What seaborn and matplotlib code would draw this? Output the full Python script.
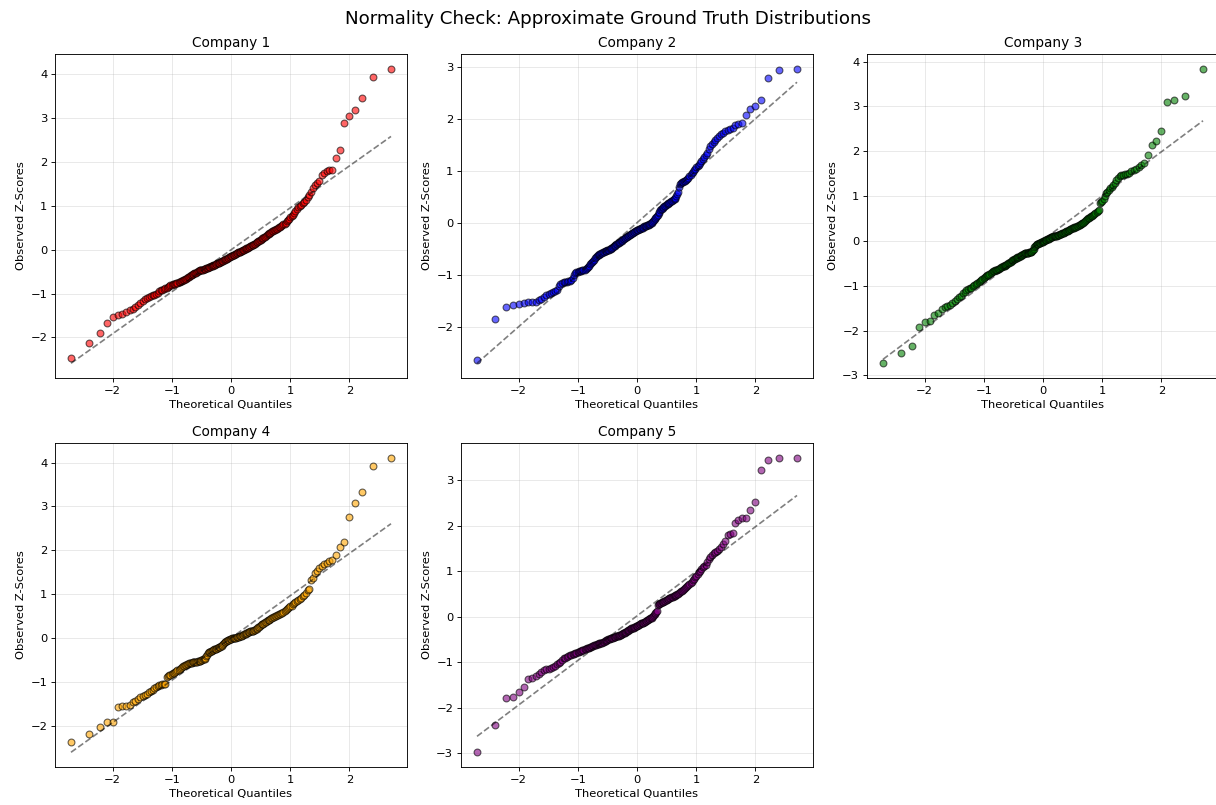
import numpy as np
import pandas as pd
import matplotlib
matplotlib.use("Agg")
import matplotlib.pyplot as plt
import seaborn as sns
from statistics import NormalDist

company_names = ["Company 1", "Company 2", "Company 3", "Company 4", "Company 5"]
company_colors = ["red", "blue", "green", "orange", "purple"]

# Sorted observed z-scores (200 per company)
company1 = [
    -2.46, -2.13, -1.89, -1.67, -1.54, -1.49, -1.47, -1.42, -1.38, -1.35,
    -1.30, -1.26, -1.22, -1.17, -1.12, -1.10, -1.08, -1.06, -1.04, -1.02,
    -1.00, -0.98, -0.95, -0.92, -0.91, -0.89, -0.87, -0.86, -0.84, -0.83,
    -0.81, -0.80, -0.79, -0.78, -0.77, -0.76, -0.75, -0.74, -0.73, -0.72,
    -0.71, -0.70, -0.69, -0.67, -0.66, -0.64, -0.63, -0.61, -0.60, -0.58,
    -0.57, -0.56, -0.55, -0.54, -0.53, -0.52, -0.51, -0.49, -0.48, -0.47,
    -0.46, -0.46, -0.45, -0.45, -0.44, -0.44, -0.43, -0.42, -0.42, -0.41,
    -0.40, -0.39, -0.39, -0.38, -0.37, -0.36, -0.35, -0.35, -0.34, -0.33,
    -0.32, -0.31, -0.30, -0.30, -0.29, -0.28, -0.27, -0.26, -0.26, -0.25,
    -0.24, -0.23, -0.22, -0.21, -0.20, -0.19, -0.18, -0.17, -0.16, -0.15,
    -0.14, -0.13, -0.12, -0.11, -0.11, -0.10, -0.09, -0.08, -0.07, -0.06,
    -0.05, -0.04, -0.04, -0.03, -0.02, -0.01, -0.01, 0.00, 0.01, 0.02,
    0.03, 0.04, 0.05, 0.06, 0.07, 0.08, 0.09, 0.10, 0.11, 0.12,
    0.13, 0.14, 0.15, 0.17, 0.18, 0.19, 0.20, 0.22, 0.23, 0.24,
    0.26, 0.27, 0.29, 0.30, 0.32, 0.33, 0.35, 0.36, 0.38, 0.39,
    0.41, 0.42, 0.43, 0.45, 0.46, 0.47, 0.48, 0.50, 0.51, 0.52,
    0.54, 0.56, 0.58, 0.60, 0.62, 0.65, 0.68, 0.71, 0.74, 0.77,
    0.80, 0.84, 0.88, 0.93, 0.97, 1.00, 1.03, 1.06, 1.09, 1.13,
    1.20, 1.25, 1.31, 1.40, 1.48, 1.53, 1.58, 1.70, 1.76, 1.80,
    1.82, 1.83, 2.10, 2.27, 2.90, 3.05, 3.18, 3.46, 3.95, 4.13,
]

company2 = [
    -2.63, -1.83, -1.60, -1.56, -1.55, -1.53, -1.52, -1.52, -1.51, -1.48,
    -1.45, -1.41, -1.38, -1.36, -1.34, -1.32, -1.30, -1.28, -1.20, -1.16,
    -1.14, -1.13, -1.12, -1.12, -1.11, -1.10, -1.09, -1.04, -0.99, -0.96,
    -0.94, -0.93, -0.92, -0.92, -0.91, -0.90, -0.90, -0.89, -0.87, -0.85,
    -0.83, -0.81, -0.79, -0.77, -0.75, -0.73, -0.70, -0.67, -0.65, -0.62,
    -0.61, -0.60, -0.59, -0.58, -0.57, -0.56, -0.55, -0.55, -0.54, -0.53,
    -0.53, -0.52, -0.51, -0.51, -0.50, -0.49, -0.48, -0.47, -0.45, -0.44,
    -0.43, -0.41, -0.40, -0.39, -0.38, -0.37, -0.36, -0.35, -0.34, -0.33,
    -0.32, -0.31, -0.30, -0.29, -0.28, -0.27, -0.26, -0.25, -0.24, -0.23,
    -0.22, -0.21, -0.20, -0.19, -0.18, -0.17, -0.16, -0.15, -0.14, -0.13,
    -0.13, -0.12, -0.11, -0.11, -0.10, -0.09, -0.09, -0.08, -0.07, -0.06,
    -0.06, -0.05, -0.05, -0.04, -0.03, -0.03, -0.02, -0.01, 0.00, 0.01,
    0.03, 0.05, 0.07, 0.09, 0.11, 0.13, 0.15, 0.17, 0.20, 0.22,
    0.25, 0.27, 0.28, 0.30, 0.31, 0.33, 0.34, 0.35, 0.37, 0.38,
    0.39, 0.40, 0.41, 0.42, 0.43, 0.44, 0.46, 0.47, 0.48, 0.52,
    0.56, 0.61, 0.70, 0.76, 0.78, 0.79, 0.80, 0.81, 0.82, 0.83,
    0.85, 0.87, 0.90, 0.93, 0.96, 0.99, 1.02, 1.05, 1.08, 1.10,
    1.13, 1.16, 1.19, 1.23, 1.27, 1.31, 1.36, 1.42, 1.48, 1.53,
    1.56, 1.60, 1.64, 1.67, 1.71, 1.74, 1.77, 1.79, 1.81, 1.84,
    1.88, 1.90, 1.92, 2.08, 2.19, 2.26, 2.36, 2.80, 2.94, 2.97,
]

company3 = [
    -2.73, -2.51, -2.35, -1.92, -1.80, -1.79, -1.66, -1.60, -1.53, -1.47,
    -1.45, -1.43, -1.38, -1.33, -1.30, -1.26, -1.22, -1.17, -1.13, -1.10,
    -1.08, -1.06, -1.04, -1.01, -0.99, -0.97, -0.94, -0.92, -0.90, -0.87,
    -0.85, -0.83, -0.81, -0.79, -0.77, -0.75, -0.73, -0.71, -0.70, -0.68,
    -0.67, -0.66, -0.65, -0.64, -0.63, -0.62, -0.60, -0.59, -0.58, -0.57,
    -0.56, -0.55, -0.54, -0.53, -0.51, -0.50, -0.49, -0.47, -0.46, -0.44,
    -0.43, -0.42, -0.41, -0.40, -0.39, -0.38, -0.37, -0.36, -0.35, -0.34,
    -0.33, -0.32, -0.31, -0.30, -0.29, -0.28, -0.28, -0.27, -0.27, -0.26,
    -0.26, -0.25, -0.25, -0.24, -0.24, -0.23, -0.20, -0.17, -0.14, -0.11,
    -0.09, -0.08, -0.07, -0.06, -0.05, -0.05, -0.04, -0.03, -0.03, -0.02,
    -0.01, 0.00, 0.01, 0.02, 0.03, 0.04, 0.05, 0.05, 0.06, 0.07,
    0.08, 0.09, 0.09, 0.10, 0.10, 0.11, 0.11, 0.12, 0.12, 0.13,
    0.13, 0.14, 0.15, 0.15, 0.16, 0.17, 0.17, 0.18, 0.19, 0.20,
    0.21, 0.22, 0.23, 0.24, 0.25, 0.26, 0.27, 0.28, 0.28, 0.29,
    0.30, 0.31, 0.32, 0.33, 0.34, 0.35, 0.36, 0.37, 0.38, 0.39,
    0.41, 0.43, 0.45, 0.47, 0.48, 0.50, 0.52, 0.53, 0.55, 0.56,
    0.58, 0.60, 0.62, 0.65, 0.67, 0.68, 0.84, 0.87, 0.89, 0.93,
    1.00, 1.06, 1.10, 1.14, 1.18, 1.21, 1.25, 1.30, 1.36, 1.41,
    1.44, 1.46, 1.48, 1.49, 1.50, 1.52, 1.55, 1.57, 1.60, 1.64,
    1.69, 1.74, 1.91, 2.13, 2.22, 2.44, 3.10, 3.15, 3.24, 3.84,
]

company4 = [
    -2.36, -2.18, -2.04, -1.91, -1.91, -1.58, -1.56, -1.56, -1.52, -1.46,
    -1.43, -1.39, -1.35, -1.32, -1.30, -1.27, -1.24, -1.21, -1.18, -1.15,
    -1.12, -1.10, -1.08, -1.07, -1.06, -1.05, -1.04, -0.88, -0.87, -0.85,
    -0.84, -0.82, -0.80, -0.79, -0.77, -0.75, -0.74, -0.72, -0.70, -0.68,
    -0.66, -0.64, -0.63, -0.62, -0.61, -0.60, -0.59, -0.58, -0.57, -0.56,
    -0.56, -0.55, -0.55, -0.55, -0.54, -0.54, -0.54, -0.53, -0.53, -0.52,
    -0.52, -0.51, -0.50, -0.49, -0.48, -0.47, -0.45, -0.42, -0.38, -0.35,
    -0.33, -0.32, -0.31, -0.30, -0.29, -0.28, -0.27, -0.26, -0.25, -0.25,
    -0.24, -0.23, -0.22, -0.21, -0.21, -0.20, -0.19, -0.18, -0.16, -0.13,
    -0.11, -0.09, -0.08, -0.07, -0.06, -0.05, -0.04, -0.04, -0.03, -0.02,
    -0.02, -0.01, -0.01, 0.00, 0.00, 0.01, 0.01, 0.02, 0.02, 0.03,
    0.03, 0.04, 0.04, 0.05, 0.05, 0.06, 0.07, 0.08, 0.09, 0.10,
    0.11, 0.12, 0.13, 0.13, 0.14, 0.15, 0.15, 0.16, 0.17, 0.17,
    0.18, 0.19, 0.20, 0.21, 0.22, 0.24, 0.26, 0.28, 0.29, 0.31,
    0.32, 0.33, 0.35, 0.36, 0.37, 0.38, 0.40, 0.41, 0.42, 0.43,
    0.45, 0.46, 0.47, 0.48, 0.50, 0.51, 0.52, 0.53, 0.54, 0.55,
    0.56, 0.58, 0.60, 0.62, 0.64, 0.66, 0.68, 0.70, 0.72, 0.74,
    0.77, 0.79, 0.82, 0.84, 0.87, 0.89, 0.92, 0.95, 0.98, 1.02,
    1.09, 1.12, 1.33, 1.37, 1.48, 1.53, 1.60, 1.64, 1.68, 1.72,
    1.76, 1.78, 1.89, 2.08, 2.20, 2.76, 3.08, 3.34, 3.92, 4.11,
]

company5 = [
    -2.98, -2.39, -1.79, -1.77, -1.66, -1.55, -1.37, -1.35, -1.30, -1.25,
    -1.21, -1.18, -1.16, -1.14, -1.12, -1.11, -1.08, -1.05, -1.02, -0.99,
    -0.95, -0.92, -0.90, -0.88, -0.86, -0.85, -0.84, -0.83, -0.82, -0.80,
    -0.79, -0.78, -0.77, -0.76, -0.75, -0.74, -0.73, -0.72, -0.71, -0.70,
    -0.69, -0.68, -0.67, -0.66, -0.65, -0.64, -0.63, -0.63, -0.62, -0.61,
    -0.60, -0.60, -0.59, -0.59, -0.58, -0.57, -0.56, -0.55, -0.54, -0.53,
    -0.52, -0.51, -0.50, -0.50, -0.49, -0.48, -0.47, -0.46, -0.46, -0.45,
    -0.44, -0.44, -0.43, -0.43, -0.42, -0.42, -0.41, -0.41, -0.40, -0.39,
    -0.38, -0.37, -0.36, -0.35, -0.34, -0.33, -0.32, -0.31, -0.30, -0.29,
    -0.28, -0.27, -0.26, -0.25, -0.24, -0.24, -0.23, -0.22, -0.21, -0.21,
    -0.20, -0.19, -0.18, -0.17, -0.16, -0.15, -0.14, -0.14, -0.13, -0.12,
    -0.11, -0.10, -0.09, -0.08, -0.07, -0.06, -0.05, -0.04, -0.03, -0.02,
    -0.01, 0.01, 0.03, 0.05, 0.07, 0.10, 0.12, 0.25, 0.27, 0.28,
    0.29, 0.30, 0.31, 0.32, 0.33, 0.34, 0.35, 0.36, 0.37, 0.38,
    0.39, 0.40, 0.41, 0.42, 0.43, 0.44, 0.45, 0.46, 0.47, 0.48,
    0.49, 0.50, 0.52, 0.54, 0.56, 0.57, 0.59, 0.61, 0.63, 0.65,
    0.67, 0.69, 0.71, 0.74, 0.77, 0.80, 0.83, 0.86, 0.89, 0.93,
    0.97, 1.00, 1.04, 1.08, 1.11, 1.14, 1.20, 1.27, 1.32, 1.36,
    1.39, 1.42, 1.45, 1.49, 1.53, 1.60, 1.66, 1.80, 1.82, 1.84,
    2.06, 2.12, 2.17, 2.17, 2.35, 2.51, 3.21, 3.45, 3.49, 3.49,
]

companies = [company1, company2, company3, company4, company5]


def theoretical_quantiles(n):
    # Filliben order-statistic medians (as used by scipy.stats.probplot)
    m = np.empty(n)
    m[-1] = 0.5 ** (1.0 / n)
    m[0] = 1.0 - m[-1]
    i = np.arange(2, n)
    m[1:-1] = (i - 0.3175) / (n + 0.365)
    nd = NormalDist()
    return np.array([nd.inv_cdf(p) for p in m])


fig = plt.figure(figsize=(15.2, 10.0625), dpi=80)

W, H = 1216.0, 805.0
ax_w, ax_h = 352.0, 324.0
lefts = [55.0, 461.0, 867.0]
tops = [54.0, 443.0]

positions = []
for r in range(2):
    for c in range(3):
        positions.append([lefts[c] / W, 1 - (tops[r] + ax_h) / H, ax_w / W, ax_h / H])

for k, (name, color, obs) in enumerate(zip(company_names, company_colors, companies)):
    ax = fig.add_axes(positions[k])
    obs_sorted = np.sort(np.asarray(obs, dtype=float))
    df = pd.DataFrame({"theo": theoretical_quantiles(len(obs_sorted)), "obs": obs_sorted})
    sns.scatterplot(data=df, x="theo", y="obs", ax=ax, color=color, alpha=0.6,
                    edgecolor="black", linewidth=1.0, s=38, zorder=3)
    sns.regplot(data=df, x="theo", y="obs", ax=ax, scatter=False, ci=None,
                line_kws=dict(color="black", linestyle="--", alpha=0.5, linewidth=1.5, zorder=4))
    ax.set_title(name, fontsize=12.3)
    ax.set_xlabel("Theoretical Quantiles", fontsize=10.3)
    ax.set_ylabel("Observed Z-Scores", fontsize=10.3)
    ax.grid(True, alpha=0.3)
    ax.set_axisbelow(True)
    ax.tick_params(labelsize=10.3)

fig.suptitle("Normality Check: Approximate Ground Truth Distributions", fontsize=16.4, y=0.988, va="top")

fig.savefig("out.png", dpi=80)
